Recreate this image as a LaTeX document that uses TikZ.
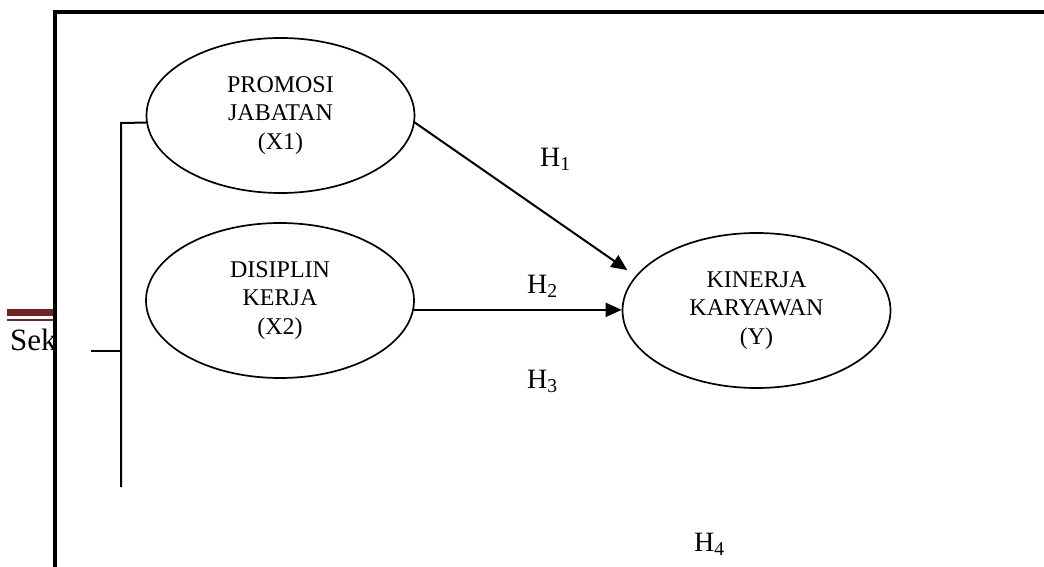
\documentclass[tikz,border=0pt]{standalone}
\usepackage{fontspec}
\setmainfont{Liberation Serif}
\usetikzlibrary{shapes.geometric,arrows.meta}
\definecolor{barred}{RGB}{110,36,36}
\begin{document}
\begin{tikzpicture}[x=1pt,y=-1pt,
  var/.style={ellipse,draw,line width=1.7pt,minimum width=268pt,minimum height=155pt,inner sep=0pt,align=center,font=\fontsize{24}{28.5}\selectfont},
  hyp/.style={font=\fontsize{28}{30}\selectfont,inner sep=0pt,anchor=base west},
  link/.style={line width=2pt},
  arr/.style={link,-{Triangle[length=16pt,width=14pt]}}]
\useasboundingbox (0,0) rectangle (1044,567);
% left page fragment
\fill[barred] (7,308.5) rectangle (55,316);
\fill[barred] (7,318.5) rectangle (55,320.5);
\node[anchor=base west,inner sep=0pt,font=\fontsize{31}{34}\selectfont] (sek) at (10,350) {Sek};
% frame
\fill[white] (55,12) rectangle (1100,600);
\draw[line width=3.5pt] (55,600) |- (1100,12);
% variables
\node[var] (x1) at (280.5,115.5) {PROMOSI\\JABATAN\\(X1)};
\node[var] (x2) at (280,300.5) {DISIPLIN\\KERJA\\(X2)};
\node[var] (y) at (756.5,310.5) {KINERJA\\KARYAWAN\\(Y)};
% bracket
\coordinate (b1) at (121,123);
\coordinate (b2) at (121,487);
\coordinate (b3) at (91,351);
\draw[link] (x1.183) -- (b1) -- (b2);
\draw[link] (b3) -- (b3 -| b1);
% arrows
\draw[arr,shorten >=10pt] (x1.-3) -- (y.164);
\draw[arr] (x2.-4) -- (x2.-4 -| y.west);
% hypothesis labels
\node[hyp] (h1) at (540,166) {H\textsubscript{1}};
\node[hyp] (h2) at (527,293) {H\textsubscript{2}};
\node[hyp] (h3) at (527,388) {H\textsubscript{3}};
\node[hyp] (h4) at (694,551) {H\textsubscript{4}};
\end{tikzpicture}
\end{document}
